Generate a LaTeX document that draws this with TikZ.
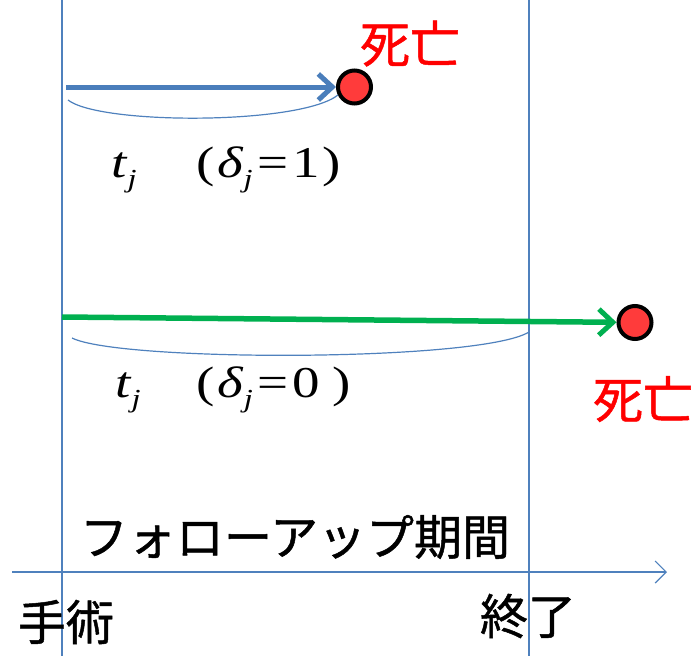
\documentclass[tikz,border=0pt]{standalone}
\usepackage{fontspec}
\usetikzlibrary{arrows.meta}
\newfontfamily\jp[FakeBold=1]{Noto Sans CJK JP}
\newfontfamily\tnr{Liberation Serif}
\definecolor{axisblue}{HTML}{4F81BD}
\definecolor{arrowblue}{HTML}{4A7EBB}
\definecolor{arrowgreen}{HTML}{00B050}
\definecolor{deadred}{HTML}{FF3B3B}
\definecolor{labelred}{HTML}{FF0000}
\newcommand{\subj}{\raisebox{-10pt}{\fontsize{26}{26}\selectfont\textit{j}}}
\tikzset{
  thinline/.style={draw=axisblue, line width=1.2pt},
  deadpt/.style={circle, draw=black, line width=4pt, fill=deadred, minimum size=33pt, inner sep=0pt},
  jplabel/.style={font=\jp\fontsize{48}{54}\selectfont, inner sep=0pt},
  redlabel/.style={font=\jp\fontsize{50}{56}\selectfont, inner sep=0pt, text=labelred},
  mathlabel/.style={font=\tnr\fontsize{44}{48}\selectfont, inner sep=0pt, anchor=base west},
}
\begin{document}
\begin{tikzpicture}[x=1pt, y=-1pt]
\useasboundingbox (0,0) rectangle (697,656);
% vertical lines
\coordinate (L1t) at (62,0);
\coordinate (L1b) at (62,656);
\coordinate (L2t) at (529,0);
\coordinate (L2b) at (529,656);
\draw[thinline] (L1t) -- (L1b);
\draw[thinline] (L2t) -- (L2b);
% time axis
\coordinate (ax0) at (12,572);
\coordinate (ax1) at (667,572);
\draw[thinline, -{Straight Barb[length=11pt, width=22pt, line width=1.2pt]}] (ax0) -- (ax1);
% first subject (death)
\node[deadpt] (d1) at (354.5,87) {};
\coordinate (s1) at (66,87);
\draw[draw=arrowblue, line width=5pt, -{Straight Barb[length=14pt, width=26pt, line width=5pt]}] (s1) -- (d1);
\coordinate (a1s) at (68,100);
\coordinate (a1e) at (338,95);
\draw[thinline] (a1s) .. controls (100,125) and (300,125) .. (a1e);
\node[redlabel] (dead1) at (410,43.5) {死亡};
\node[mathlabel] (m1) at (111,177) {\scalebox{1.25}[1]{\textit{t}\subj\hspace{48pt}(\hspace{2pt}\textit{δ}\subj\hspace{4pt}=\hspace{3pt}1\hspace{2pt})}};
% second subject (censored)
\node[deadpt] (d2) at (635,322.5) {};
\coordinate (s2) at (62,317);
\draw[draw=arrowgreen, line width=5.5pt, -{Straight Barb[length=14pt, width=26pt, line width=5pt]}] (s2) -- (d2);
\coordinate (a2s) at (72,338);
\coordinate (a2e) at (529,332);
\draw[thinline] (a2s) .. controls (120,362) and (480,362) .. (a2e);
\node[redlabel] (dead2) at (643,399) {死亡};
\node[mathlabel] (m2) at (115,397) {\scalebox{1.25}[1]{\textit{t}\subj\hspace{45pt}(\hspace{2pt}\textit{δ}\subj\hspace{4pt}=\hspace{3pt}0\hspace{10pt})}};
% labels
\node[jplabel] (follow) at (295,537) {フォローアップ期間};
\node[jplabel] (surg) at (66,622) {手術};
\node[jplabel] (end) at (528,616) {終了};
\end{tikzpicture}
\end{document}
